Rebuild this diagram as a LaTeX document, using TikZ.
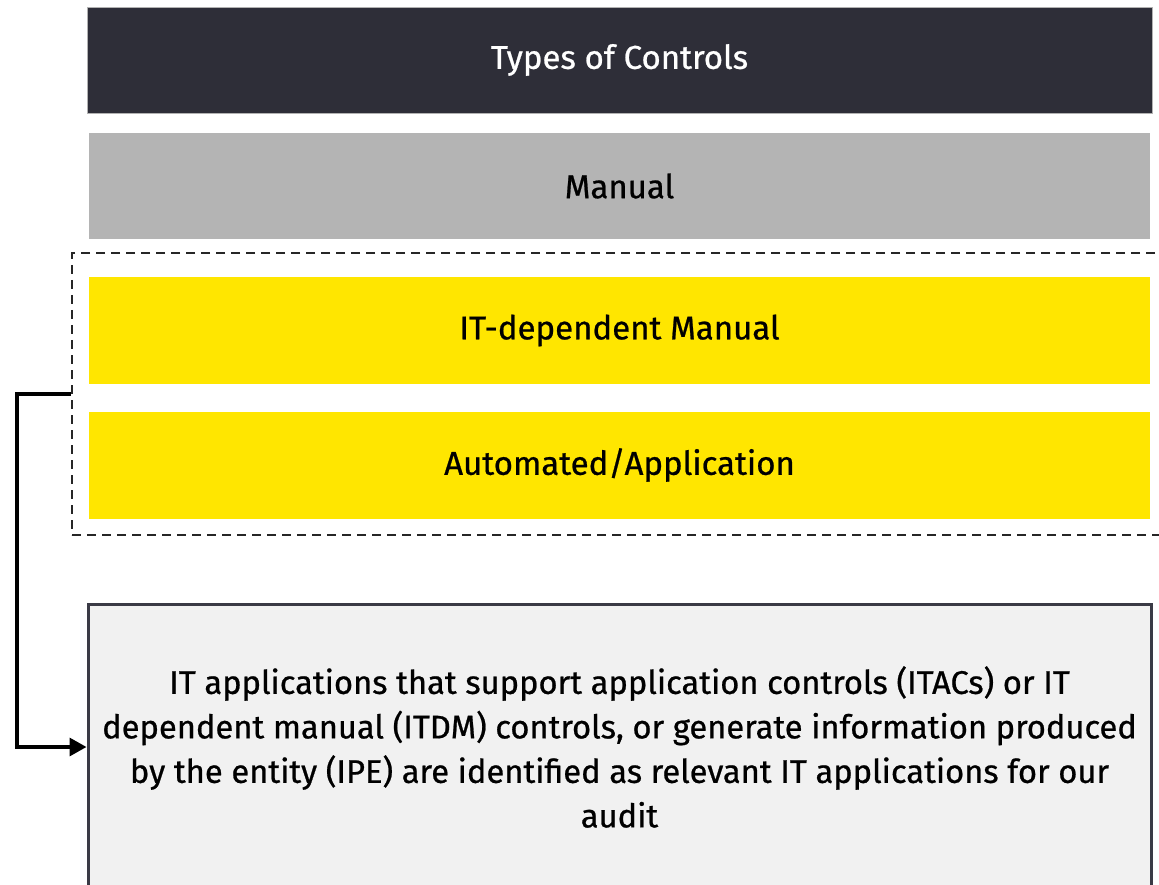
\documentclass[tikz,border=0pt]{standalone}
\usepackage{fontspec}
\setmainfont{Fira Sans}
\newfontfamily\medfont{Fira Sans}[FakeBold=0.7]
\usetikzlibrary{arrows.meta}
\definecolor{eydark}{HTML}{2E2E38}
\definecolor{eygray}{HTML}{B4B4B4}
\definecolor{eyyellow}{HTML}{FFE600}
\definecolor{eylight}{HTML}{F1F1F1}
\definecolor{eyborder}{HTML}{3A3A45}
\tikzset{
  band/.style={rectangle, minimum width=1061pt, minimum height=106pt, inner sep=0pt,
    font=\medfont\fontsize{33}{44}\selectfont},
  titleband/.style={band, fill=eydark, draw=gray!60, line width=0.6pt, text=white, minimum width=1065pt},
  grayband/.style={band, fill=eygray},
  yellowband/.style={band, fill=eyyellow, minimum height=107pt},
  groupbox/.style={rectangle, draw=black!85, dash pattern=on 9pt off 6pt, line width=2pt,
    minimum width=1098pt, minimum height=282pt, inner sep=0pt},
  notebox/.style={rectangle, fill=eylight, draw=eyborder, line width=3pt,
    minimum width=1063pt, minimum height=286pt, align=center,
    font=\medfont\fontsize{32.7}{44.5}\selectfont},
  link/.style={draw=black, line width=3.4pt, -{Triangle[length=17pt,width=18pt]}}
}
\begin{document}
\begin{tikzpicture}[x=1pt,y=-1pt]
\useasboundingbox (0,0) rectangle (1159,885);
\node[titleband] (title) at (619.5,60) {Types of Controls};
\node[grayband] (manual) at (619.5,186) {Manual};
\node[groupbox] (group) at (621,394) {};
\node[yellowband] (itdm) at (619.5,330.5) {IT-dependent Manual};
\node[yellowband] (auto) at (619.5,465) {Automated/Application};
\node[notebox] (note) at (619.5,747) {IT applications that support application controls (ITACs) or IT\\dependent manual (ITDM) controls, or generate information produced\\by the entity (IPE) are identified as relevant IT applications for our\\audit};
\coordinate (bend) at (17,394);
\draw[link] (group.west) -- (bend) |- (note.west);
\end{tikzpicture}
\end{document}
